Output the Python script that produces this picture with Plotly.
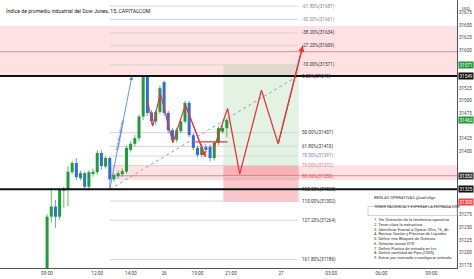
import plotly.graph_objects as go

# ---------------- data ----------------
bar_idx = list(range(44))
opens  = [31150,31271,31291,31271,31322,31325,31359,31377,31347,31357,31330,31357,31359,31397,31370,31387,31345,31351,31355,31360,31403,31415,31426,31469,31548,31477,31459,31478,31537,31476,31442,31423,31440,31459,31496,31432,31407,31393,31409,31409,31387,31417,31439,31446]
closes = [31271,31291,31271,31324,31326,31360,31377,31349,31357,31330,31359,31360,31397,31371,31387,31345,31353,31357,31361,31407,31415,31426,31469,31548,31476,31460,31478,31525,31476,31442,31423,31442,31459,31496,31432,31407,31393,31409,31403,31387,31417,31446,31446,31462]
highs  = [31276,31328,31304,31328,31330,31371,31381,31387,31362,31360,31363,31366,31402,31403,31392,31390,31357,31362,31366,31412,31420,31432,31473,31549,31549,31482,31482,31530,31540,31480,31446,31447,31464,31500,31500,31436,31411,31414,31414,31414,31420,31450,31452,31466]
lows   = [31148,31259,31249,31265,31289,31292,31355,31343,31343,31325,31323,31350,31354,31364,31366,31325,31340,31346,31350,31356,31398,31410,31420,31462,31470,31453,31452,31474,31470,31436,31418,31418,31436,31455,31428,31402,31388,31388,31398,31380,31382,31412,31435,31428]

tick_pos = [0, 12, 20, 28, 36, 44, 56, 68, 80, 92]
tick_txt = ["09:00", "12:00", "14:00", "26", "19:00", "21:00", "27", "03:00", "06:00", "09:00"]
price_ticks = [31175,31200,31225,31250,31275,31400,31425,31475,31500,31525,31600,31625,31650,31675]

fib_labels = ["-61.80%", "-50.00%", "-38.20%", "-27.20%", "-10.00%", "0.00%", "50.00%", "61.80%", "70.50%", "79.00%", "88.60%", "100.00%", "110.00%", "127.20%", "161.80%"]
fib_prices = [31687, 31661, 31634, 31609, 31571, 31549, 31437, 31410, 31391, 31372, 31350, 31325, 31302, 31264, 31186]
fib_colors = ["#9a6fb0", "#8c8c8c", "#333333", "#333333", "#333333", "#333333", "#333333", "#333333", "#a070b0", "#d98080", "#e05555", "#333333", "#333333", "#333333", "#333333"]
fib_start, fib_end = 15, 60

zoneA = (31549, 31648, 31597)   # low, high, inner line
zoneB = (31343, 31372, 31352)
key_levels = [31549, 31325]

entry, target, stop = 31372, 31571, 31300
pos_x0, pos_x1 = 42.2, 60.2

hist_path_x = [24, 25.3, 27.1, 30.1, 33.1]
hist_path_y = [31502, 31450, 31515, 31417, 31492]
hist_arrow = (37.9, 31389)
hline_red = (35.5, 43.2, 31419)
proj_x = [39.8, 43.2, 46.1, 51.3, 55.3, 61.2]
proj_y = [31403, 31485, 31355, 31521, 31415, 31609]

rules_title = "REGLAS OPERATIVAS @carlullgu"
rules_sub = "TENER PACIENCIA Y ESPERAR LA ENTRADA COR"
rules = ["1. Ver Dirección de la tendencia operativa",
         "2. Tener clara la estructura",
         "3. Identificar Fractal a Operar 30m, 1h, 4h",
         "4. Revisar Vacíos y Piscinas de Liquidez",
         "5. Definir mis Bloques de Ordenes",
         "6. Detectar zonas OTE",
         "7. Definir Puntos de entrada en fvx",
         "8. Definir cantidad de Pips [2500]",
         "9. Entrar por mercado o configurar entrada"]

badges = [(31571, "31571", "#1e9a3c", "white"), (31549, "31549", "#111111", "white"),
          (31462, "31462", "#1e9a3c", "white"), (31352, "31352", "#333333", "white"),
          (31325, "31325", "#111111", "white"), (31300, "31300", "#f0424f", "white")]

# ---------------- figure ----------------
XR = [-11.27, 98.1]
YR = [31169.6, 31699.2]
GREEN, BLUE = "#1f9d3a", "#2f6fdc"
FONT = "Roboto"
PW, PH = 457, 268

fig = go.Figure()

shapes = []
shapes.append(dict(type="rect", xref="paper", x0=0, x1=1, yref="y", y0=zoneA[0], y1=zoneA[1],
                   fillcolor="rgba(242,54,69,0.15)", line_width=0, layer="below"))
shapes.append(dict(type="line", xref="paper", x0=0, x1=1, yref="y", y0=zoneA[2], y1=zoneA[2],
                   line=dict(color="rgba(220,120,130,0.8)", width=1), layer="below"))
shapes.append(dict(type="rect", xref="x", x0=fib_start, x1=XR[1], yref="y", y0=zoneB[0], y1=zoneB[1],
                   fillcolor="rgba(242,54,69,0.15)", line_width=0, layer="below"))
shapes.append(dict(type="line", xref="x", x0=fib_start, x1=XR[1], yref="y", y0=zoneB[2], y1=zoneB[2],
                   line=dict(color="rgba(220,120,130,0.8)", width=1), layer="below"))
shapes.append(dict(type="rect", xref="x", x0=pos_x0, x1=pos_x1, yref="y", y0=entry, y1=target,
                   fillcolor="rgba(76,175,80,0.16)", line_width=0, layer="below"))
shapes.append(dict(type="rect", xref="x", x0=pos_x0, x1=pos_x1, yref="y", y0=stop, y1=entry,
                   fillcolor="rgba(242,54,69,0.28)", line_width=0, layer="below"))
for p in fib_prices:
    shapes.append(dict(type="line", xref="x", x0=fib_start, x1=fib_end, yref="y", y0=p, y1=p,
                       line=dict(color="#d6d6d6", width=1), layer="below"))
shapes.append(dict(type="line", xref="x", x0=fib_start, x1=fib_end, yref="y", y0=fib_prices[11], y1=fib_prices[5],
                   line=dict(color="#a0a0a0", width=1, dash="dot"), layer="below"))
for p in key_levels:
    shapes.append(dict(type="line", xref="paper", x0=0, x1=1, yref="y", y0=p, y1=p,
                       line=dict(color="#111111", width=2)))
shapes.append(dict(type="line", xref="x", x0=hline_red[0], x1=hline_red[1], yref="y", y0=hline_red[2], y1=hline_red[2],
                   line=dict(color="#e8353b", width=1.2)))
shapes.append(dict(type="rect", xref="paper", x0=368/PW, x1=1, yref="paper", y0=1-215.5/PH, y1=1-206.5/PH,
                   line=dict(color="#c8c8c8", width=0.8), fillcolor="rgba(0,0,0,0)"))

for col, cond in ((GREEN, lambda o, c: c >= o), (BLUE, lambda o, c: c < o)):
    xs, base, h, wx, wy = [], [], [], [], []
    for i, o, c, hi, lo in zip(bar_idx, opens, closes, highs, lows):
        if not cond(o, c):
            continue
        xs.append(i)
        base.append(min(o, c))
        h.append(max(abs(c - o), 2))
        wx += [i, i, None]
        wy += [lo, hi, None]
    fig.add_trace(go.Scatter(x=wx, y=wy, mode="lines", line=dict(color=col, width=0.7), hoverinfo="skip"))
    fig.add_trace(go.Bar(x=xs, y=h, base=base, width=0.72, marker=dict(color=col, line_width=0), hoverinfo="skip"))

fig.add_trace(go.Scatter(x=hist_path_x + [hist_arrow[0]], y=hist_path_y + [hist_arrow[1]], mode="lines",
                         line=dict(color="#e8353b", width=1.2), hoverinfo="skip"))
fig.add_trace(go.Scatter(x=proj_x, y=proj_y, mode="lines", line=dict(color="#e8353b", width=1.3), hoverinfo="skip"))

ann = []
ann.append(dict(x=hist_arrow[0], y=hist_arrow[1], ax=hist_path_x[-1], ay=hist_path_y[-1], xref="x", yref="y",
                axref="x", ayref="y", showarrow=True, arrowhead=2, arrowsize=1, arrowwidth=1.1, arrowcolor="#e8353b", text=""))
ann.append(dict(x=proj_x[-1], y=proj_y[-1], ax=proj_x[-2], ay=proj_y[-2], xref="x", yref="y",
                axref="x", ayref="y", showarrow=True, arrowhead=2, arrowsize=1, arrowwidth=1.2, arrowcolor="#e8353b", text=""))
ann.append(dict(x=20.3, y=31549, ax=15, ay=31325, xref="x", yref="y", axref="x", ayref="y", showarrow=True,
                arrowhead=2, arrowsize=1, arrowwidth=0.8, arrowcolor="#3f7fd0", text=""))
ann.append(dict(x=17.3, y=31432, xref="x", yref="y", text="Impulso alcista", showarrow=False, textangle=-79,
                font=dict(family=FONT, size=4.5, color="#3f7fd0")))
for lab, p, c in zip(fib_labels, fib_prices, fib_colors):
    ann.append(dict(x=fib_end + 0.6, y=p, xref="x", yref="y", text=f"{lab}({p})", showarrow=False,
                    xanchor="left", font=dict(family=FONT, size=4.6, color=c)))
ann.append(dict(x=0.008, y=1 - 6/PH, xref="paper", yref="paper", xanchor="left",
                text="Índice de promedio industrial del Dow Jones, 15, CAPITALCOM",
                showarrow=False, font=dict(family=FONT, size=5.2, color="#131722")))
ann.append(dict(x=1, y=1 - 4/PH, xref="paper", yref="paper", xanchor="left", xshift=3, text="USD",
                showarrow=False, font=dict(family=FONT, size=4, color="#333")))
for p, t, bg, fg in badges:
    ann.append(dict(x=1, y=p, xref="paper", yref="y", xanchor="left", xshift=1, text=t, showarrow=False,
                    bgcolor=bg, borderpad=0.5, font=dict(family=FONT, size=4.6, color=fg)))
ann.append(dict(x=372/PW, y=1 - 202.3/PH, xref="paper", yref="paper", xanchor="left", text=rules_title,
                showarrow=False, font=dict(family=FONT, size=4.2, color="#333")))
ann.append(dict(x=372/PW, y=1 - 211/PH, xref="paper", yref="paper", xanchor="left", text=rules_sub,
                showarrow=False, font=dict(family=FONT, size=3.9, color="#333")))
for k, line in enumerate(rules):
    ann.append(dict(x=372/PW, y=1 - (224.3 + k*4.7)/PH, xref="paper", yref="paper", xanchor="left", text=line,
                    showarrow=False, font=dict(family=FONT, size=4.1, color="#333")))

fig.update_layout(
    width=474, height=279, margin=dict(l=0, r=17, t=0, b=11),
    paper_bgcolor="white", plot_bgcolor="white", showlegend=False, barmode="overlay",
    shapes=shapes, annotations=ann,
    xaxis=dict(range=XR, tickvals=tick_pos, ticktext=tick_txt, showgrid=False, zeroline=False,
               showline=True, linecolor="#555", linewidth=1, ticks="", automargin=False,
               tickfont=dict(family=FONT, size=4.8, color="#444")),
    yaxis=dict(range=YR, side="right", tickvals=price_ticks, ticktext=[str(t) for t in price_ticks],
               showgrid=False, zeroline=False, showline=True, linecolor="#555", linewidth=1, ticks="",
               automargin=False, tickfont=dict(family=FONT, size=4.6, color="#444")),
)

fig.write_html("out.html")
